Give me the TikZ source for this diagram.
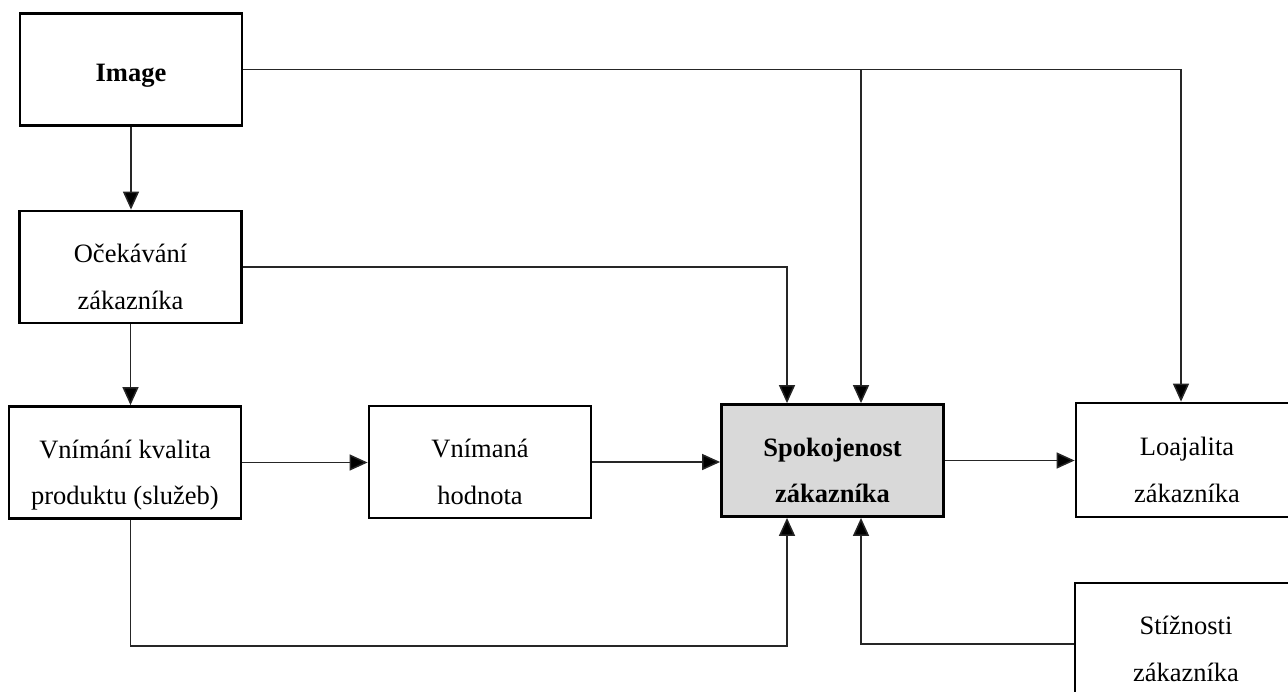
\documentclass[tikz,border=0pt]{standalone}
\usepackage{fontspec}
\setmainfont{Liberation Serif}
\usetikzlibrary{arrows.meta}
\definecolor{boxgray}{RGB}{217,217,217}

\begin{document}
\begin{tikzpicture}[x=1pt, y=-1pt, >={Triangle[width=16pt,length=18pt,fill=black]},
  box/.style={draw, line width=2.8pt, minimum width=222pt, minimum height=112pt, inner sep=0pt},
  txt/.style={align=center, font=\fontsize{26.5}{46.5}\selectfont, yshift=-10pt},
  boldtxt/.style={txt, font=\fontsize{26.5}{46.5}\selectfont\bfseries},
  conn/.style={line width=1.5pt, black!85}]
  \useasboundingbox (0,0) rectangle (1288,691);
  \clip (0,0) rectangle (1288,691);
  % boxes
  \node[box, label={[boldtxt, yshift=4.25pt]center:Image}] (img) at (131,69.5) {};
  \node[box, label={[txt]center:{Očekávání\\zákazníka}}] (expect) at (130.5,267) {};
  \node[box, minimum width=232pt, label={[txt, yshift=-2.5pt]center:{Vnímání kvalita\\produktu (služeb)}}] (qual) at (125,462.5) {};
  \node[box, label={[txt]center:{Vnímaná\\hodnota}}] (value) at (480,462) {};
  \node[box, fill=boxgray, label={[boldtxt]center:{Spokojenost\\zákazníka}}] (satis) at (832.5,460.5) {};
  \node[box, minimum height=114pt, label={[txt]center:{Loajalita\\zákazníka}}] (loyal) at (1187,460) {};
  \node[box, label={[txt]center:{Stížnosti\\zákazníka}}] (compl) at (1186,639) {};
  % arrow ends on the satisfaction box
  \coordinate (sat-tl) at ([xshift=-45.5pt]satis.north);
  \coordinate (sat-tr) at ([xshift=28.5pt]satis.north);
  \coordinate (sat-bl) at ([xshift=-45.5pt]satis.south);
  \coordinate (sat-br) at ([xshift=28.5pt]satis.south);
  \coordinate (low) at (0,646);
  % connectors
  \draw[conn, ->] (img.east) -| ([xshift=-6pt]loyal.north);
  \draw[conn, ->] (img.east -| sat-tr) -- (sat-tr);
  \draw[conn, ->] (img.south) -- (img.south |- expect.north);
  \draw[conn, ->] (expect.east) -| (sat-tl);
  \draw[conn, ->] (expect.south) -- (expect.south |- qual.north);
  \draw[conn, ->] (qual.east) -- (qual.east -| value.west);
  \draw[conn, ->] (value.east) -- (value.east -| satis.west);
  \draw[conn, ->] (satis.east) -- (satis.east -| loyal.west);
  \draw[conn, ->] (qual.south -| expect.south) |- (sat-bl |- low) -- (sat-bl);
  \draw[conn, ->] ([yshift=-5pt]compl.west) -| (sat-br);
\end{tikzpicture}
\end{document}
